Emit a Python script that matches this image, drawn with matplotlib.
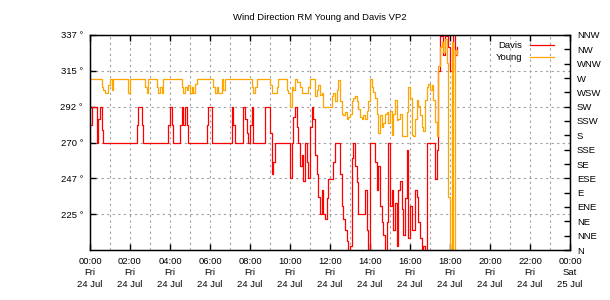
#!/usr/bin/env python3
import matplotlib
matplotlib.use('Agg')
import numpy as np
import pandas as pd
import matplotlib.pyplot as plt
import matplotlib.dates as mdates

plt.rcParams['font.family'] = ['Liberation Sans', 'DejaVu Sans']

# 5-minute samples from 24 Jul 00:00, values in degrees
davis = (
    [281, 292.5, 292.5, 292.5, 270, 285, 292.5, 278, 270, 270, 270, 270]      # 00h
    + [270] * 12                                                              # 01h
    + [270, 270, 270, 270, 281, 292.5, 292.5, 281, 270, 270, 270, 270]        # 02h
    + [270] * 11 + [281]                                                      # 03h
    + [292.5, 281, 270, 270, 270, 270, 281, 292.5, 281, 292.5, 281, 270]      # 04h
    + [270] * 10 + [281, 292.5]                                               # 05h
    + [292.5] + [270] * 11                                                    # 06h
    + [270, 292.5, 281, 270, 270, 270, 270, 270, 292.5, 285, 276, 270]        # 07h
    + [281, 292.5, 270, 270, 270, 270, 270, 270, 270, 292.5, 292.5, 292.5]    # 08h
    + [276, 250, 258, 270, 270, 270, 270, 270, 270, 270, 270, 270]            # 09h
    + [248, 270, 286, 292.5, 280, 270, 255, 262, 246, 270, 258, 248]          # 10h
    + [280, 292.5, 285, 262, 250, 236, 225, 240, 225, 222, 235, 247]          # 11h
    + [247, 247, 258, 270, 270, 270, 250, 230, 222, 215, 208, 200]            # 12h
    + [205, 260, 270, 255, 245, 225, 225, 225, 225, 240, 215, 200]            # 13h
    + [270, 270, 270, 258, 240, 255, 230, 220, 212, 200, 220, 270]            # 14h
    + [230, 240, 215, 232, 205, 240, 246, 228, 212, 235, 265, 210]            # 15h
    + [230, 215, 215, 240, 236, 220, 210, 200, 205, 200, 270, 270]            # 16h
    + [270, 270, 270, 247, 265, 315, 337, 345, 325, 337, 345, 330]            # 17h
    + [315, 315, 345, 325, 330]                                               # 18h
)

young = (
    [310, 310, 310, 310, 310, 310, 310, 305, 303, 301, 301, 306]
    + [310, 303, 310, 310, 310, 310, 310, 310, 310, 310, 310, 301]
    + [310] * 9 + [305, 301, 310]
    + [310, 310, 310, 310, 305, 301, 305, 301, 310, 310, 310, 310]
    + [310] * 7 + [305, 301, 305, 303, 306]
    + [301, 305, 301, 307] + [310] * 8
    + [310, 310, 305, 301, 305, 301, 301, 310, 303, 310, 310, 310]
    + [310] * 12
    + [310, 305, 301, 305] + [310] * 8
    + [306, 301, 301, 301, 305, 310, 310, 310, 310, 310, 303, 301]
    + [292.5, 305, 303, 310, 308, 308, 305, 301, 301, 301, 301, 305]
    + [310, 310, 310, 299, 303, 306, 300, 301, 292.5, 292.5, 292.5, 292.5]
    + [292.5, 299, 301, 296, 303, 309, 296, 288, 287, 289, 285, 286]
    + [288, 296, 298, 299, 296, 291, 286, 285, 287, 285, 290, 296]
    + [310, 305, 302, 298, 288, 276, 287, 280, 282, 288, 289, 282]
    + [290, 275, 288, 297, 284, 285, 288, 274, 274, 274, 289, 305]
    + [298, 275, 274, 285, 297, 293, 287, 280, 277, 297, 305, 307]
    + [303, 306, 297, 283, 274, 318, 330, 333, 327, 335, 320, 236]
    + [190, 333, 190, 328, 325]
)

deg_ticks = [225, 247.5, 270, 292.5, 315, 337.5]
deg_labels = ['225 °', '247 °', '270 °', '292 °', '315 °', '337 °']
compass = ['N', 'NNE', 'NE', 'ENE', 'E', 'ESE', 'SE', 'SSE',
           'S', 'SSW', 'SW', 'WSW', 'W', 'WNW', 'NW', 'NNW']

times = pd.date_range('2015-07-24 00:00', periods=len(davis), freq='5min')

fig, ax = plt.subplots(figsize=(6.1, 3.0), dpi=100)
fig.subplots_adjust(left=90/610, right=570/610, bottom=50/300, top=265/300)

ax.plot(times, davis, color='#ff0000', lw=0.9, drawstyle='steps-post', label='Davis')
ax.plot(times, young, color='#ffa500', lw=0.9, drawstyle='steps-post', label='Young')

ax.set_xlim(pd.Timestamp('2015-07-24 00:00'), pd.Timestamp('2015-07-25 00:00'))
ax.set_ylim(202.5, 337.5)

ax.xaxis.set_major_locator(mdates.HourLocator(byhour=range(0, 24, 2)))
ax.xaxis.set_minor_locator(mdates.HourLocator())
ax.xaxis.set_major_formatter(mdates.DateFormatter('%H:%M\n%a\n%d %b'))
ax.set_yticks(deg_ticks)
ax.set_yticklabels(deg_labels)

grid_kw = dict(color='#a0a0a0', linestyle=(0, (2, 3)), linewidth=0.8)
ax.grid(True, which='both', axis='x', **grid_kw)
ax.grid(True, which='major', axis='y', **grid_kw)

ax.tick_params(which='major', direction='in', top=True, length=4.5, width=1,
               labelsize=6.8, pad=5)
ax.tick_params(which='minor', length=0)
for lab in ax.get_xticklabels():
    lab.set_linespacing(1.35)
for s in ax.spines.values():
    s.set_linewidth(1)

ax2 = ax.twinx()
ax2.set_ylim(0, 15)
ax2.set_yticks(range(16))
ax2.set_yticklabels(compass)
ax2.tick_params(direction='in', length=4.5, width=1, labelsize=6.8, pad=5)

ax.legend(loc='upper right', bbox_to_anchor=(0.975, 0.99), frameon=False,
          markerfirst=False, handlelength=2.6, fontsize=6.8,
          borderaxespad=0, labelspacing=0.35)

fig.text(320/610, 1 - 17/300, 'Wind Direction RM Young and Davis VP2',
         ha='center', va='center', fontsize=6.8)

fig.savefig('out.png', dpi=100)
